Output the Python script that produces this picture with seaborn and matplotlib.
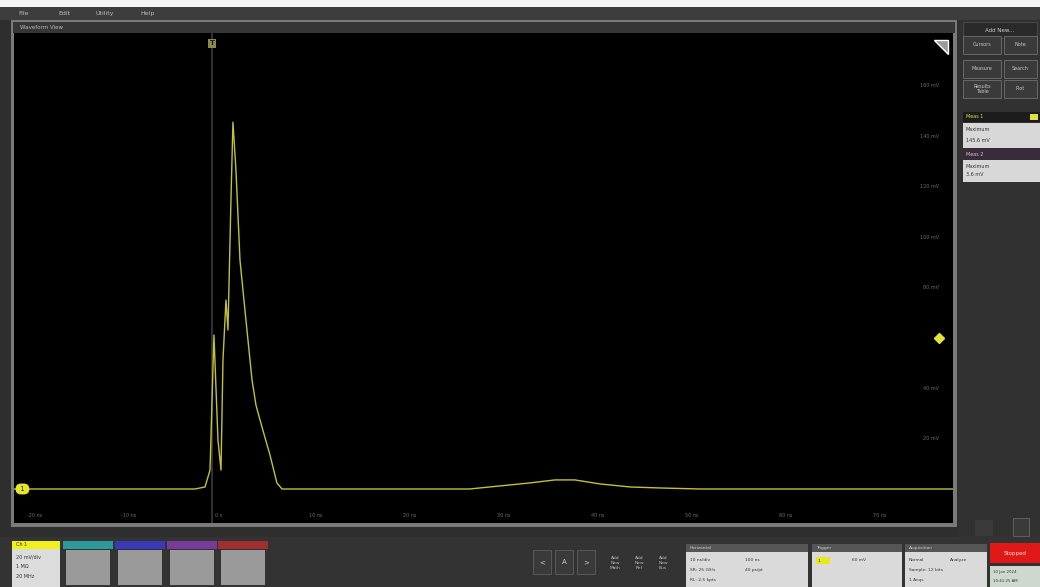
import numpy as np
import pandas as pd
import seaborn as sns
import matplotlib.pyplot as plt
from matplotlib.patches import Rectangle, Polygon

# channel 1 trace, time in ns (trigger at 0), amplitude in mV
time_ns = [-21.06, -1.81, -0.74, -0.21, 0.21, 0.64, 0.96, 1.17, 1.49, 1.70,
           2.02, 2.23, 2.55, 2.98, 3.40, 3.83, 4.26, 4.68, 5.32, 6.17,
           6.91, 7.45, 27.4, 30.6, 33.8, 36.5, 38.6, 41.3, 44.5, 47.7,
           51.9, 78.8]
volts_mv = [0.0, 0.0, 0.8, 7.5, 61.1, 19.4, 7.5, 51.2, 75.0, 63.1,
            114.7, 145.6, 126.6, 90.9, 75.0, 59.1, 43.3, 33.3, 24.6, 13.5,
            2.4, 0.0, 0.0, 1.2, 2.4, 3.6, 3.6, 2.0, 0.8, 0.4,
            0.0, 0.0]

time_ticks = [-20, -10, 0, 10, 20, 30, 40, 50, 60, 70]
time_labels = ['-20 ns', '-10 ns', '0 s', '10 ns', '20 ns', '30 ns', '40 ns', '50 ns', '60 ns', '70 ns']
volt_ticks = [20, 40, 80, 100, 120, 140, 160]
volt_labels = ['20 mV', '40 mV', '80 mV', '100 mV', '120 mV', '140 mV', '160 mV']
trigger_level = 60

df = pd.DataFrame({'t': time_ns, 'v': volts_mv})

sns.set_style('dark')
plt.rcParams['font.family'] = ['DejaVu Sans']

W, H = 1040, 587
fig = plt.figure(figsize=(W / 100, H / 100), dpi=100, facecolor='#2e2e2e')


def box(x, y, w, h, color, ec='none', lw=0, z=-1):
    # pixel box, y measured from the top
    fig.add_artist(Rectangle((x / W, 1 - (y + h) / H), w / W, h / H,
                             transform=fig.transFigure, facecolor=color,
                             edgecolor=ec, linewidth=lw, zorder=z))


def label(x, y, s, size=4.5, color='#d0d0d0', **kw):
    fig.text(x / W, 1 - y / H, s, fontsize=size, color=color, va='center', **kw)


# window chrome
box(0, 0, W, 7, '#f4f4f4')
box(0, 7, W, 13, '#3d3d3d')
for xx, s in [(18, 'File'), (58, 'Edit'), (95, 'Utility'), (140, 'Help')]:
    label(xx, 13.5, s, size=4.5, color='#bdbdbd')
box(11, 20, 946, 507, '#7a7a7a')
box(13, 22, 942, 11, '#363636')
label(20, 27.5, 'Waveform View', size=4, color='#bbbbbb')
box(958, 20, 82, 520, '#313131')

# plot area
ax = fig.add_axes([14 / W, 1 - 523 / H, 939 / W, 490 / H])
ax.set_facecolor('black')
ax.axvline(0, color='#3a3a3a', linewidth=1.2, zorder=1)
sns.lineplot(data=df, x='t', y='v', ax=ax, color='#c2c238', linewidth=1.0,
             sort=False, zorder=3)
ax.set_xlim(-21.06, 78.83)
ax.set_ylim(-13.5, 181.0)
ax.set_xticks([])
ax.set_yticks([])
ax.set_xlabel('')
ax.set_ylabel('')
ax.grid(False)
for sp in ax.spines.values():
    sp.set_visible(False)

for t, s in zip(time_ticks, time_labels):
    ax.text(t + 0.3, -10.5, s, fontsize=3.5, color='#6e6e6e', ha='left', va='center')
for v, s in zip(volt_ticks, volt_labels):
    ax.text(0.985, v, s, transform=ax.get_yaxis_transform(), fontsize=3.5,
            color='#6e6e6e', ha='right', va='center')
# trigger level marker on the right edge
ax.plot([0.985], [trigger_level], marker='D', color='#e2e23a', markersize=5,
        transform=ax.get_yaxis_transform(), clip_on=False)
# channel reference marker on the left
ax.text(0.009, 0, ' 1 ', transform=ax.get_yaxis_transform(), fontsize=5,
        color='#303000', ha='center', va='center',
        bbox=dict(boxstyle='round,pad=0.35,rounding_size=0.8', fc='#e6e62e', ec='none'))
# trigger position marker at the top
ax.text(0, 0.985, 'T', transform=ax.get_xaxis_transform(), fontsize=5,
        color='#202000', ha='center', va='top', fontweight='bold',
        bbox=dict(boxstyle='square,pad=0.2', fc='#8a8a50', ec='none'))
fig.add_artist(Polygon([[934 / W, 1 - 40 / H], [948 / W, 1 - 40 / H], [948 / W, 1 - 54 / H]],
                       closed=True, transform=fig.transFigure, facecolor='#9a9a9a', zorder=5))

# right side menu
box(963, 22, 74, 16, '#2a2a2a', ec='#555555', lw=0.5)
label(1000, 30, 'Add New...', size=4, ha='center')
for (xx, yy, ww, s) in [(963, 36, 38, 'Cursors'), (1004, 36, 33, 'Note'),
                        (963, 60, 38, 'Measure'), (1004, 60, 33, 'Search'),
                        (963, 80, 38, 'Results\nTable'), (1004, 80, 33, 'Plot')]:
    box(xx, yy, ww, 18, '#3a3a3a', ec='#707070', lw=0.6)
    label(xx + ww / 2, yy + 9, s, size=3.5, ha='center', color='#c8c8c8')
box(963, 112, 77, 10, '#1c1c1c')
label(966, 117, 'Meas 1', size=3.5, color='#e0e040')
box(1030, 114, 8, 6, '#e0e040')
box(963, 123, 77, 25, '#d8d8d8')
label(966, 130, 'Maximum', size=3.5, color='#333333')
label(966, 140, '145.6 mV', size=3.5, color='#333333')
box(963, 149, 77, 10, '#3a2a3a')
label(966, 154, 'Meas 2', size=3.5, color='#cccccc')
box(963, 160, 77, 22, '#d8d8d8')
label(966, 166, 'Maximum', size=3.5, color='#333333')
label(966, 175, '3.6 mV', size=3.5, color='#333333')
box(975, 520, 18, 16, '#3a3a3a')
box(1013, 518, 16, 18, '#3a3a3a', ec='#707070', lw=0.5)

# bottom bar
box(0, 537, W, 50, '#333333')
box(12, 541, 48, 8, '#f0f020')
label(16, 545, 'Ch 1', size=3.5, color='#333300')
box(12, 549, 48, 38, '#dcdcdc')
for i, s in enumerate(['20 mV/div', '1 MΩ', '20 MHz']):
    label(16, 557 + i * 10, s, size=3.5, color='#333333')
for xx, c in [(63, '#2a9a9a'), (115, '#3a3ab8'), (167, '#7a3a9a'), (218, '#a03030')]:
    box(xx, 541, 50, 8, c)
    box(xx + 3, 550, 44, 35, '#9a9a9a')
for i, s in enumerate(['<', 'A', '>']):
    box(533 + i * 22, 550, 18, 24, '#3a3a3a', ec='#666666', lw=0.5)
    label(542 + i * 22, 562, s, size=5, ha='center')
for i, s in enumerate(['Add\nNew\nMath', 'Add\nNew\nRef', 'Add\nNew\nBus']):
    label(615 + i * 24, 563, s, size=3.2, ha='center', color='#c0c0c0')
for xx, ww, title in [(686, 122, 'Horizontal'), (812, 90, 'Trigger'), (905, 82, 'Acquisition')]:
    box(xx, 544, ww, 8, '#555555')
    label(xx + 4, 548, title, size=3.2, color='#cfcfcf')
    box(xx, 552, ww, 35, '#dadada')
label(690, 560, '10 ns/div', size=3.2, color='#333333')
label(745, 560, '100 ns', size=3.2, color='#333333')
label(690, 570, 'SR: 25 GS/s', size=3.2, color='#333333')
label(745, 570, '40 ps/pt', size=3.2, color='#333333')
label(690, 580, 'RL: 2.5 kpts', size=3.2, color='#333333')
box(816, 557, 14, 7, '#e8e820')
label(818, 560.5, '1', size=3.2, color='#333333')
label(852, 560, '60 mV', size=3.2, color='#333333')
label(909, 560, 'Normal', size=3.2, color='#333333')
label(950, 560, 'Analyze', size=3.2, color='#333333')
label(909, 570, 'Sample: 12 bits', size=3.2, color='#333333')
label(909, 580, '1 Acqs', size=3.2, color='#333333')
box(990, 543, 50, 20, '#e01818')
label(1015, 553, 'Stopped', size=4, color='#ffdddd', ha='center')
box(990, 566, 50, 21, '#cfd8cf')
label(993, 572, '10 Jan 2024', size=2.8, color='#333333')
label(993, 581, '10:41:25 AM', size=2.8, color='#333333')

plt.savefig('out.png', dpi=100, facecolor=fig.get_facecolor())
